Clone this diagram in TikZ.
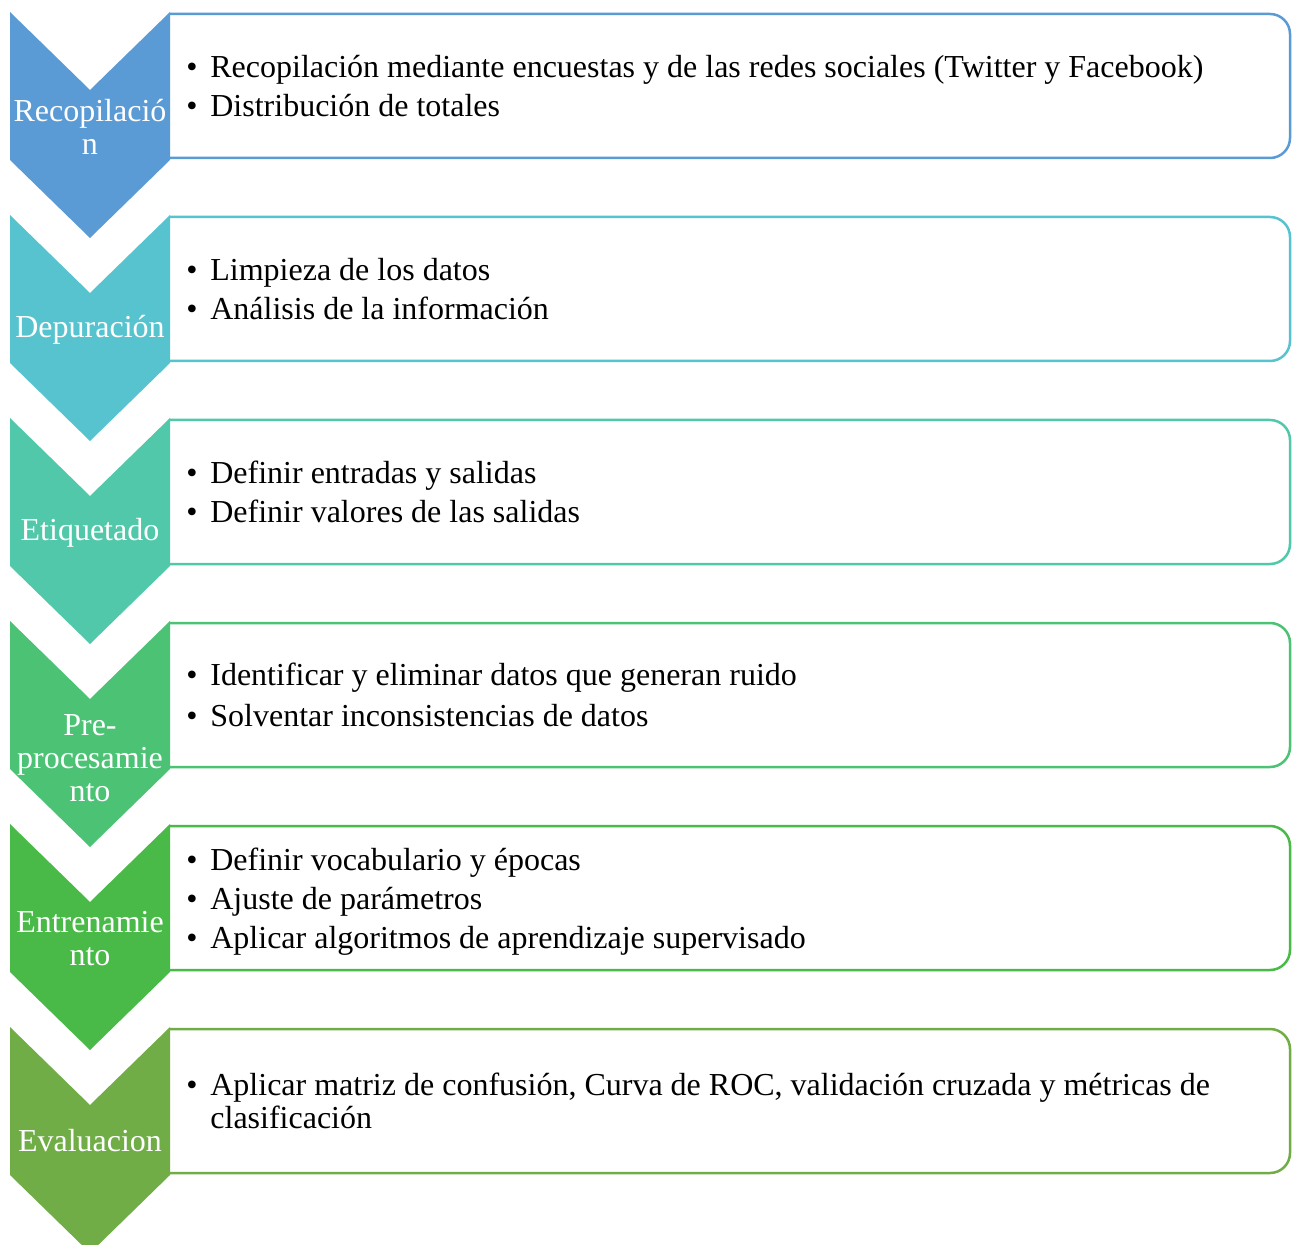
\documentclass[tikz,border=0pt]{standalone}
\usepackage{fontspec}
\setmainfont{Liberation Serif}
\definecolor{colRecop}{RGB}{91,155,213}
\definecolor{colDepur}{RGB}{87,195,207}
\definecolor{colEtiq}{RGB}{81,200,169}
\definecolor{colPrepro}{RGB}{76,194,117}
\definecolor{colEntren}{RGB}{73,186,71}
\definecolor{colEval}{RGB}{112,173,71}
\newcommand{\vineta}{\makebox[12pt][l]{\textbullet}}
\begin{document}
\begin{tikzpicture}[x=0.5pt, y=-0.5pt,
        caja/.style={line width=1.25pt, fill=white, rounded corners=10pt},
        etiq/.style={text=white, text width=80pt, align=center, inner sep=0pt,
            font=\fontsize{16}{16.5}\selectfont},
        lista/.style={anchor=west, align=left, inner sep=0pt,
            font=\fontsize{16}{16.5}\selectfont}]
    \useasboundingbox (0,0) rectangle (1294,1245);
    \clip (0,0) rectangle (1294,1245);
    % Recopilacion
    \draw [caja, draw=colRecop] (170,14) -- (1290,14) -- (1290,158) -- (170,158);
    \fill [colRecop] (10,12) -- (90,90) -- (170,12) -- (170,160) -- (90,238) -- (10,160) -- cycle;
    \node [etiq] (recop) at (90,127) {Recopilació\\n};
    \node [lista] (recoptxt) at (186,86) {\vineta Recopilación mediante encuestas y de las redes sociales (Twitter y Facebook)\\[3pt]
        \vineta Distribución de totales};%
%
    % Depuracion
    \draw [caja, draw=colDepur] (170,217) -- (1290,217) -- (1290,361) -- (170,361);
    \fill [colDepur] (10,215) -- (90,293) -- (170,215) -- (170,363) -- (90,441) -- (10,363) -- cycle;
    \node [etiq] (depur) at (90,330) {Depuración};
    \node [lista] (depurtxt) at (186,289) {\vineta Limpieza de los datos\\[3pt]
        \vineta Análisis de la información};%
%
    % Etiquetado
    \draw [caja, draw=colEtiq] (170,420) -- (1290,420) -- (1290,564) -- (170,564);
    \fill [colEtiq] (10,418) -- (90,496) -- (170,418) -- (170,566) -- (90,644) -- (10,566) -- cycle;
    \node [etiq] (etiq) at (90,533) {Etiquetado};
    \node [lista] (etiqtxt) at (186,492) {\vineta Definir entradas y salidas\\[3pt]
        \vineta Definir valores de las salidas};%
%
    % Pre-procesamiento
    \draw [caja, draw=colPrepro] (170,623) -- (1290,623) -- (1290,767) -- (170,767);
    \fill [colPrepro] (10,621) -- (90,699) -- (170,621) -- (170,769) -- (90,847) -- (10,769) -- cycle;
    \node [etiq] (prepro) at (90,758) {Pre-\\procesamie\\nto};
    \node [lista] (preprotxt) at (186,695) {\vineta Identificar y eliminar datos que generan ruido\\[4pt]
        \vineta Solventar inconsistencias de datos};%
%
    % Entrenamiento
    \draw [caja, draw=colEntren] (170,826) -- (1290,826) -- (1290,970) -- (170,970);
    \fill [colEntren] (10,824) -- (90,902) -- (170,824) -- (170,972) -- (90,1050) -- (10,972) -- cycle;
    \node [etiq] (entren) at (90,939) {Entrenamie\\nto};
    \node [lista] (entrentxt) at (186,902) {\vineta Definir vocabulario y épocas\\[3pt]
        \vineta Ajuste de parámetros\\[3pt]
        \vineta Aplicar algoritmos de aprendizaje supervisado};%
%
    % Evaluacion
    \draw [caja, draw=colEval] (170,1029) -- (1290,1029) -- (1290,1173) -- (170,1173);
    \fill [colEval] (10,1027) -- (90,1105) -- (170,1027) -- (170,1175) -- (90,1253) -- (10,1175) -- cycle;
    \node [etiq] (eval) at (90,1141) {Evaluacion};
    \node [lista] (evaltxt) at (186,1101) {\vineta Aplicar matriz de confusión, Curva de ROC, validación cruzada y métricas de\\
        \hspace*{12pt}clasificación};
\end{tikzpicture}
\end{document}
